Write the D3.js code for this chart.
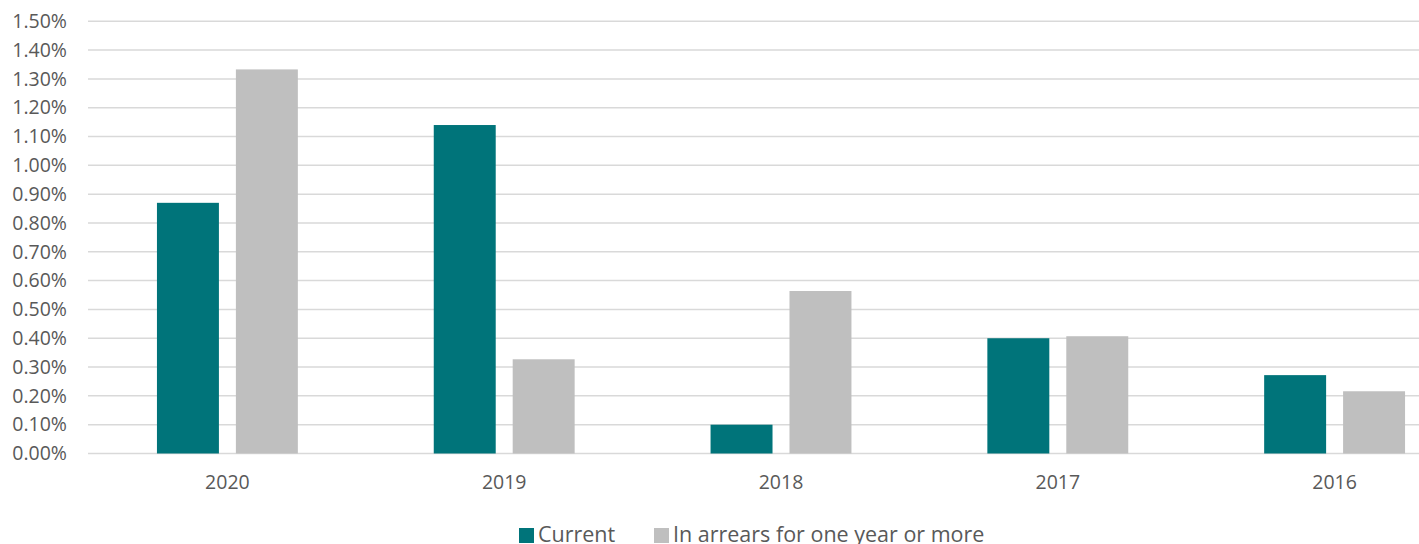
<!DOCTYPE html>
<html>
<head>
<meta charset="utf-8">
<script src="https://cdn.jsdelivr.net/npm/d3@7"></script>
<style>
  body { margin: 0; background: #fff; }
  svg { display: block; font-family: "Open Sans", sans-serif; }
</style>
</head>
<body>
<svg id="chart" width="1419" height="544"></svg>
<script>
// values, in percent
const years = ["2020", "2019", "2018", "2017", "2016"];
const current = [0.87, 1.14, 0.10, 0.40, 0.272];
const arrears = [1.333, 0.327, 0.564, 0.407, 0.216];
const seriesNames = ["Current", "In arrears for one year or more"];
const seriesColors = ["#00747a", "#bfbfbf"];
const yTicks = [0, 0.1, 0.2, 0.3, 0.4, 0.5, 0.6, 0.7, 0.8, 0.9, 1.0, 1.1, 1.2, 1.3, 1.4, 1.5];

const svg = d3.select("#chart");
const width = 1419;

const x0 = d3.scaleBand().domain(years).range([89, 1473]);
const bw = x0.bandwidth();
const groupFrac = 0.509;
const x1 = d3.scaleBand()
    .domain(seriesNames)
    .range([bw * (1 - groupFrac) / 2, bw * (1 + groupFrac) / 2])
    .paddingInner(0.215);

const y = d3.scaleLinear().domain([0, 1.5]).range([453.5, 21.3]);

// gridlines
svg.append("g")
    .selectAll("line")
    .data(yTicks)
    .join("line")
    .attr("x1", 88)
    .attr("x2", width)
    .attr("y1", d => y(d))
    .attr("y2", d => y(d))
    .attr("stroke", "#d9d9d9")
    .attr("stroke-width", 1.5);

// y axis labels
const yAxis = d3.axisLeft(y).tickValues(yTicks).tickSize(0).tickPadding(0)
    .tickFormat(d => d.toFixed(2) + "%");
const gy = svg.append("g").attr("transform", "translate(67,0)").call(yAxis);
gy.select(".domain").remove();
gy.selectAll("text")
    .attr("fill", "#595959")
    .style("font-size", "19.5px")
    .style("font-family", "'Open Sans', sans-serif");

// bars
const rows = years.map((yr, i) => ({year: yr, vals: [current[i], arrears[i]]}));
const groups = svg.append("g")
    .selectAll("g")
    .data(rows)
    .join("g")
    .attr("transform", d => "translate(" + x0(d.year) + ",0)");

groups.selectAll("rect")
    .data(d => d.vals.map((v, j) => ({name: seriesNames[j], v: v, c: seriesColors[j]})))
    .join("rect")
    .attr("x", d => x1(d.name))
    .attr("width", x1.bandwidth())
    .attr("y", d => y(d.v))
    .attr("height", d => y(0) - y(d.v))
    .attr("fill", d => d.c);

// x axis labels
const xAxis = d3.axisBottom(x0).tickSize(0).tickPadding(0);
const gx = svg.append("g").attr("transform", "translate(0,475)").call(xAxis);
gx.select(".domain").remove();
gx.selectAll("text")
    .attr("fill", "#595959")
    .attr("dy", "0.71em")
    .style("font-size", "19.5px")
    .style("font-family", "'Open Sans', sans-serif");

// legend
const legend = svg.append("g").attr("transform", "translate(519,528)");
const legX = [0, 135];
seriesNames.forEach((name, i) => {
    const g = legend.append("g").attr("transform", "translate(" + legX[i] + ",0)");
    g.append("rect").attr("width", 15).attr("height", 15).attr("fill", seriesColors[i]);
    g.append("text")
        .attr("x", 19)
        .attr("y", 14)
        .attr("fill", "#595959")
        .style("font-size", "21.5px")
        .text(name);
});
</script>
</body>
</html>
